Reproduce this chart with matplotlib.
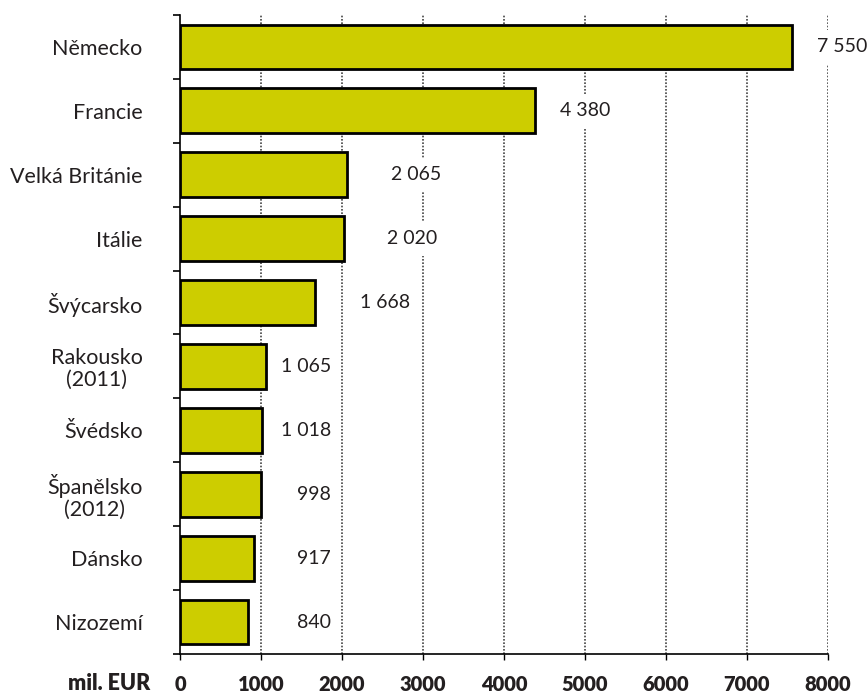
import numpy as np
import matplotlib
matplotlib.use("Agg")
import matplotlib.pyplot as plt

plt.rcParams['font.family'] = ['Lato', 'DejaVu Sans']

countries = ["Německo", "Francie", "Velká Británie", "Itálie", "Švýcarsko",
             "Rakousko\n(2011)", "Švédsko", "Španělsko\n(2012)", "Dánsko", "Nizozemí"]
values = [7550, 4380, 2065, 2020, 1668, 1065, 1018, 998, 917, 840]
value_labels = ["7 550", "4 380", "2 065", "2 020", "1 668",
                "1 065", "1 018", "998", "917", "840"]
x_ticks = [0, 1000, 2000, 3000, 4000, 5000, 6000, 7000, 8000]
unit_label = "mil. EUR"

# right edge of each value label, in axis units (labels sit in loose columns)
label_anchor = [8480, 5310, 3225, 3175, 2840, 1865, 1865, 1865, 1865, 1865]

bar_color = "#cdcd00"
text_color = "#231f20"

fig = plt.figure(figsize=(8.67, 6.97), dpi=100)
ax = fig.add_axes([180 / 867, 1 - 654 / 697, 648 / 867, 639 / 697])

n = len(countries)
y = np.arange(n)

ax.barh(y, values, height=0.7, color=bar_color, edgecolor="black",
        linewidth=2.0, zorder=3)

ax.set_xlim(0, 8000)
ax.set_ylim(n - 0.5, -0.5)

# dotted vertical grid
for xv in x_ticks[1:]:
    ax.axvline(xv, color="#444444", linestyle=(0, (1, 1)), linewidth=1.2, zorder=1)

# value labels with white backing that interrupts the grid
for yi, lab, xa in zip(y, value_labels, label_anchor):
    ax.text(xa, yi, lab, ha="right", va="center", fontsize=14, color=text_color,
            zorder=4, clip_on=False,
            bbox=dict(boxstyle="square,pad=0.45", facecolor="white", edgecolor="none"))

# category boundary ticks on the left spine
ax.set_yticks(np.arange(-0.5, n, 1))
ax.set_yticklabels([])
ax.tick_params(axis="y", which="major", direction="out", length=5, width=1.2, color="black")
ax.set_yticks(y, minor=True)
ax.set_yticklabels(countries, minor=True, fontsize=15.5, color=text_color,
                   multialignment="center", linespacing=1.1)
ax.tick_params(axis="y", which="minor", length=0, pad=27)

ax.set_xticks(x_ticks)
ax.set_xticklabels([str(v) for v in x_ticks], fontsize=14.5, fontweight="heavy",
                   color=text_color)
ax.tick_params(axis="x", direction="out", length=4, width=1.0, pad=11, color="black")

for side in ["top", "right"]:
    ax.spines[side].set_visible(False)
ax.spines["left"].set_linewidth(1.2)
ax.spines["bottom"].set_linewidth(1.2)

fig.text(150 / 867, 1 - 683 / 697, unit_label, ha="right", va="center",
         fontsize=15.5, fontweight="heavy", color=text_color)

fig.savefig("out.png", dpi=100)
